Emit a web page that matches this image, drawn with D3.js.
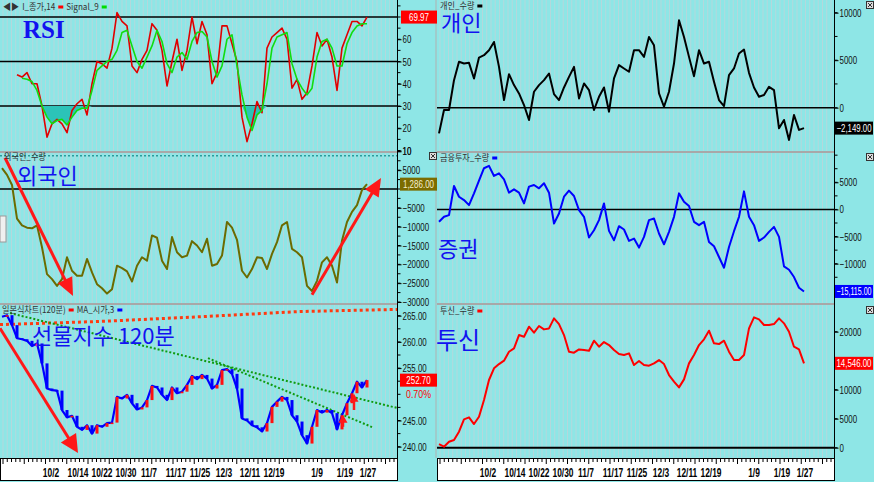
<!DOCTYPE html>
<html><head><meta charset="utf-8">
<script src="https://cdn.jsdelivr.net/npm/d3@7"></script>
<style>body{margin:0;background:#8ee6e6;} svg{display:block}</style>
</head><body><svg id="c" width="874" height="482"></svg>
<script>
// ---------- DATA (index 0..73, evenly spaced bars) ----------
const rsi = [null,null,null,44,43,45,40,40,30,16,22,24,22,18,28,31,33,26,40,50,49,47,56,72,68,66,48,45,51,55,67,64,55,39,50,60,46,55,70,58,68,62,40,45,66,66,58,50,25,14,22,32,27,56,61,63,65,60,38,42,33,36,48,63,57,60,52,37,56,62,68,68,66,69.97];
const rsiSignal = [null,null,null,null,42.5,42,41,37,30,25,22,23.5,24,21.5,25,28,29,29,37,46,48,50,51,55,63,64,57,50,47,52,57,64,59,49,45,52,54,51,59,63,63.5,61,50,43,48,60,62,48,35,25,19,26,28,40,56,61,62,63,49,42,38,35,38,52,59,60,56,48,48,58,63,66,67,67];
const foreign = [5540,3750,1070,-7860,-9640,-10270,-10450,-9640,-15450,-22590,-23930,-25720,-23930,-18130,-21700,-23040,-23040,-18570,-22150,-25270,-26340,-27770,-26610,-20360,-20990,-21880,-24560,-20360,-18130,-19020,-12320,-12950,-19020,-21250,-12770,-16790,-18130,-17680,-13840,-15000,-16790,-13220,-20360,-19910,-17680,-8750,-10270,-13480,-21700,-23490,-21250,-18130,-18310,-21250,-17230,-14110,-9640,-8750,-15900,-16790,-18130,-25720,-27060,-24380,-19470,-18130,-20360,-24830,-13660,-8750,-6070,-4290,-270,1286];
const futures = [264.8,265.1,263.2,260.7,260.5,260.2,259.2,259.7,255.9,251.1,250.8,250.7,247.0,245.6,245.9,243.8,243.2,244.1,242.5,244.1,243.8,244.5,244.6,249.5,249.2,249.9,248.3,247.1,247.5,248.9,251.6,251.3,249.9,248.9,251.3,250.2,250.5,251.8,253.5,252.9,253.7,253.0,251.1,251.8,254.6,254.8,253.9,251.1,245.4,245.0,244.1,243.7,242.9,244.5,247.6,248.6,249.5,248.9,246.0,244.8,242.2,240.6,243.8,247.0,246.5,247.0,246.4,243.3,246.0,248.3,250.2,252.4,251.3,252.7];
const individual = [-2700,-240,-240,2900,4830,4650,4720,3080,5280,5530,6050,6920,4300,800,3530,2380,1500,280,-1290,1680,2380,2900,3600,1430,800,2130,3250,4300,980,2550,1850,-240,1150,2130,-420,3080,4480,4130,3780,6050,6050,5350,7450,6570,1500,100,1680,4650,9200,7450,5350,3320,6050,4650,4830,2730,800,170,3430,4130,5700,6120,3670,2130,1150,1330,2200,1850,-2170,-1290,-3390,-770,-2340,-2149];
const securities = [-2280,-1360,-1050,4320,2340,1730,800,2960,5300,7590,8020,6170,6660,5550,3090,3700,3090,1110,4200,4500,3890,4810,3090,-2590,-740,2340,3460,2470,-120,-1360,-5180,-3830,-1970,1110,-3950,-5680,-3090,-3700,-5800,-5370,-7030,-5060,-1970,-1670,-4440,-6420,-4130,-1360,2960,1420,620,-2280,-2900,-2280,-5980,-6790,-8760,-10740,-6910,-4010,-1360,3330,-1360,-2900,-5800,-5180,-4130,-3210,-5060,-10490,-11110,-12460,-14440,-15115];
const trust = [630,170,1030,1320,2760,4890,5230,4080,5340,8220,11670,13680,14420,15000,16550,17130,19420,19140,20860,19830,20980,20400,20570,22300,21320,19420,16550,16380,16950,16840,16720,18450,17410,18220,17700,16840,16150,15980,16260,14250,14940,14250,14140,14540,15110,14420,12530,11380,10400,11780,14540,15980,17700,18680,20170,17990,17870,18450,16550,15110,15110,15980,20570,22470,22130,21150,21150,21320,22300,21440,20000,17410,16950,14546];

const dateLabels = ['10/2','10/14','10/22','10/30','11/7','11/17','11/25','12/3','12/11','12/19','1/9','1/19','1/27'];
const datePos = [9.8,15.2,20,24.8,29.4,34.8,39.6,44.4,49.6,54.4,63,68.6,73.2];

const rsiTicks = [60,50,40,30,20,10];
const rsiLevels = [70,50,30];
const foreignTicks = [10000,5000,-5000,-10000,-15000,-20000,-25000,-30000];
const foreignRef = 8800;
const futuresTicks = [265,260,255,245,240];
const individualTicks = [10000,5000,0];
const securitiesTicks = [5000,0,-5000,-10000];
const trustTicks = [20000,10000,5000,0];

// annotations in data coordinates
const foreignArrows = [{i0:0.6,v0:8300,i1:14.2,v1:-28400},{i0:62,v0:-28100,i1:75.8,v1:2950}];
const futuresArrows = [{i0:-0.4,v0:262.6,i1:15.2,v1:238.8,big:true},{i0:68.2,v0:243.8,i1:68.2,v1:246.1},{i0:70.4,v0:247.0,i1:70.4,v1:250.1}];
const trend1 = [{i:1.6,v:265.5},{i:79,v:247.4}];
const trend2 = [{i:41.2,v:256.9},{i:74,v:243.75}];
const maLong = [{i:-0.4,v:263.3},{i:19.6,v:263.9},{i:39.6,v:264.8},{i:59.6,v:265.8},{i:79,v:266.2}];

// ---------- LAYOUT ----------
const svg = d3.select('#c');
const BG = '#8ee6e6', STRIPE = '#b4d8dc';
const SANS = "'Liberation Sans',Arial,sans-serif";
const KR = "'Noto Sans CJK KR',sans-serif";
const xL = d3.scaleLinear().domain([0,73]).range([2,367]);
const xR = d3.scaleLinear().domain([0,73]).range([439,804]);
const L = {x0:0, x1:397}, R = {x0:437, x1:834};
const rows = {top:[0,152], mid:[152,304], bot:[304,458]};

const yRsi = d3.scaleLinear().domain([70,10]).range([17,150.5]);
const yFor = d3.scaleLinear().domain([0,-30000]).range([189,302]);
const yFut = d3.scaleLinear().domain([265,240]).range([315.7,446.7]);
const yInd = d3.scaleLinear().domain([10000,0]).range([12.7,107.7]);
const ySec = d3.scaleLinear().domain([5000,-10000]).range([182.3,263.7]);
const yTru = d3.scaleLinear().domain([20000,0]).range([331.7,447.7]);

// horizontally condense text (narrow system font look); returns new width
function squeeze(sel,f,maxW){
  sel.each(function(){
    const w=this.getComputedTextLength();
    let t=w*f; if(maxW&&t>maxW) t=maxW;
    this.setAttribute('textLength',t); this.setAttribute('lengthAdjust','spacingAndGlyphs');
    this.__w=t;
  });
}

svg.append('rect').attr('width',874).attr('height',482).attr('fill',BG);
const defs = svg.append('defs');
function clip(id,x0,x1,y0,y1){ defs.append('clipPath').attr('id',id).append('rect').attr('x',x0).attr('y',y0).attr('width',x1-x0).attr('height',y1-y0); return `url(#${id})`; }

function stripes(P,row){
  svg.append('g').selectAll('line').data(d3.range(P.x0+3,P.x1,4.25)).join('line')
    .attr('x1',d=>d).attr('x2',d=>d).attr('y1',row[0]).attr('y2',row[1])
    .attr('stroke',STRIPE).attr('stroke-width',1);
}
[L,R].forEach(P=>Object.values(rows).forEach(r=>stripes(P,r)));

[rows.mid[0], rows.bot[0]].forEach(y=>{
  [L,R].forEach(P=>svg.append('line').attr('x1',P.x0).attr('x2',P.x1).attr('y1',y).attr('y2',y).attr('stroke','#a8a8a8').attr('stroke-width',2));
});
svg.append('line').attr('x1',436).attr('x2',436).attr('y1',0).attr('y2',458).attr('stroke','#b0b0b0').attr('stroke-width',1);

function axis(P,y,ticks,fmt,row){
  const ax = P.x1+0.5;
  svg.append('line').attr('x1',ax).attr('x2',ax).attr('y1',row[0]).attr('y2',row[1]).attr('stroke','#000');
  const step = Math.abs(y(ticks[0])-y(ticks[1]))/2;
  const minors = d3.range(row[0]+ ((y(ticks[0])-row[0])%step), row[1], step);
  svg.append('g').selectAll('line').data(minors).join('line')
    .attr('x1',ax).attr('x2',ax+3).attr('y1',d=>d).attr('y2',d=>d).attr('stroke','#000');
  const g = svg.append('g').attr('transform',`translate(${ax},0)`)
    .call(d3.axisRight(y).tickValues(ticks).tickFormat(fmt).tickSize(4).tickPadding(1).tickSizeOuter(0));
  g.select('.domain').remove();
  g.selectAll('text').attr('font-family',SANS).attr('font-size',11).attr('fill','#111').call(squeeze,0.72);
}
axis(L,yRsi,rsiTicks,d3.format('d'),rows.top);
axis(L,yFor,foreignTicks,d=>d===10000?'10':d3.format('d')(d),rows.mid);
axis(L,yFut,futuresTicks,d3.format('.2f'),rows.bot);
axis(R,yInd,individualTicks,d3.format('d'),rows.top);
axis(R,ySec,securitiesTicks,d3.format('d'),rows.mid);
axis(R,yTru,trustTicks,d3.format('d'),rows.bot);

rsiLevels.forEach(v=>svg.append('line').attr('x1',L.x0).attr('x2',L.x1).attr('y1',yRsi(v)).attr('y2',yRsi(v)).attr('stroke','#000').attr('stroke-width',1.6));
svg.append('line').attr('x1',L.x0).attr('x2',L.x1).attr('y1',yFor(0)).attr('y2',yFor(0)).attr('stroke','#000').attr('stroke-width',1.5);
svg.append('line').attr('x1',L.x0).attr('x2',L.x1).attr('y1',yFor(foreignRef)).attr('y2',yFor(foreignRef)).attr('stroke','#2a9c9c').attr('stroke-width',1.5).attr('stroke-dasharray','2,2');
[yInd,ySec,yTru].forEach(y=>svg.append('line').attr('x1',R.x0).attr('x2',R.x1).attr('y1',y(0)).attr('y2',y(0)).attr('stroke','#000').attr('stroke-width',y===yTru?2:1.5));

function series(data,x,y,color,w,clipUrl){
  svg.append('path').datum(data)
    .attr('d',d3.line().defined(d=>d!=null).x((d,i)=>x(i)).y(d=>y(d)))
    .attr('fill','none').attr('stroke',color).attr('stroke-width',w).attr('stroke-linejoin','round')
    .attr('clip-path',clipUrl||null);
}

svg.append('path').datum(rsiSignal)
  .attr('d',d3.area().defined(d=>d!=null).x((d,i)=>xL(i)).y0(yRsi(30)).y1(d=>yRsi(Math.min(d,30))))
  .attr('fill','#2cc3b8');
series(rsi,xL,yRsi,'#e00000',1.6);
series(rsiSignal,xL,yRsi,'#10dd10',1.6);

series(foreign,xL,yFor,'#6b6b00',2);

const cFut = clip('cfut',L.x0,L.x1,rows.bot[0]+1,rows.bot[1]);
const lineTrend = d3.line().x(d=>xL(d.i)).y(d=>yFut(d.v));
svg.append('path').datum(maLong).attr('d',lineTrend).attr('fill','none').attr('stroke','#ff3a10').attr('stroke-width',3).attr('stroke-dasharray','3,3').attr('clip-path',cFut);
[trend1,trend2].forEach(t=>svg.append('path').datum(t).attr('d',lineTrend).attr('fill','none').attr('stroke','#109a10').attr('stroke-width',2).attr('stroke-dasharray','2,2').attr('clip-path',cFut));
series(futures,xL,yFut,'#0000ff',2.2,cFut);
svg.append('g').selectAll('rect').data(futures.slice(1)).join('rect')
  .attr('x',(d,k)=>xL(k+1)-1.5).attr('width',3)
  .attr('y',(d,k)=>yFut(Math.max(d,futures[k])))
  .attr('height',(d,k)=>Math.max(1.5,Math.abs(yFut(d)-yFut(futures[k]))))
  .attr('fill',(d,k)=>d>=futures[k]?'#ff1010':'#0000ff');

series(individual,xR,yInd,'#000',2);
series(securities,xR,ySec,'#0000ff',2);
series(trust,xR,yTru,'#ff0000',2);

function arrow(x1,y1,x2,y2,head,hw,w){
  const dx=x2-x1, dy=y2-y1, len=Math.hypot(dx,dy), ux=dx/len, uy=dy/len;
  const bx=x2-ux*head, by=y2-uy*head;
  svg.append('line').attr('x1',x1).attr('y1',y1).attr('x2',bx+ux*2).attr('y2',by+uy*2).attr('stroke','#ff1818').attr('stroke-width',w);
  svg.append('polygon').attr('points',[[x2,y2],[bx-uy*hw,by+ux*hw],[bx+uy*hw,by-ux*hw]].map(p=>p.join(',')).join(' ')).attr('fill','#ff1818');
}
foreignArrows.forEach(a=>arrow(xL(a.i0),yFor(a.v0),xL(a.i1),yFor(a.v1),18,8,3));
futuresArrows.forEach(a=>a.big?arrow(xL(a.i0),yFut(a.v0),xL(a.i1),yFut(a.v1),18,9,3):arrow(xL(a.i0),yFut(a.v0),xL(a.i1),yFut(a.v1),8,4.5,2.5));

function box(x,w,y,txt,bg,fg){
  svg.append('rect').attr('x',x).attr('y',y-6.5).attr('width',w).attr('height',13).attr('fill',bg);
  svg.append('text').attr('x',x+w/2).attr('y',y).attr('dy','0.36em').attr('text-anchor','middle')
    .attr('font-family',SANS).attr('font-size',10.5).attr('fill',fg).text(txt).call(squeeze,0.76,w-3);
}
box(401,36,yRsi(rsi[73]),d3.format('.2f')(rsi[73]),'#ff0000','#fff');
box(400,37,yFor(foreign[73]),d3.format(',.2f')(foreign[73]),'#7c6c00','#f4f0d0');
box(400,37,yFut(futures[73]),d3.format('.2f')(futures[73]),'#ff0000','#fff');
svg.append('text').attr('x',406).attr('y',yFut(futures[73])+14).attr('dy','0.36em').attr('font-family',SANS).attr('font-size',11).attr('fill','#ff0000').text('0.70%').call(squeeze,0.8);
box(835,38,yInd(individual[73]),d3.format(',.2f')(individual[73]),'#000','#fff');
box(835,38,ySec(securities[73]),d3.format(',.2f')(securities[73]),'#0000ff','#fff');
box(835,38,yTru(trust[73]),d3.format(',.2f')(trust[73]),'#ff0000','#fff');

function title(x,y,txt,size,fam,weight){
  svg.append('text').attr('x',x).attr('y',y).attr('font-family',fam||KR).attr('font-size',size)
    .attr('font-weight',weight||'normal').attr('fill','#1212f0').text(txt);
}
title(23,38,'RSI',25,"'Liberation Serif',serif",'bold');
title(17,184,'외국인',22);
title(32,344,'선물지수 120분',22);
title(441,31,'개인',22);
title(438,257,'증권',22);
title(436,349,'투신',24);

function legend(x,y,parts){
  let cx=x;
  parts.forEach(p=>{
    if(p.t){ const t=svg.append('text').attr('x',cx).attr('y',y).attr('dy','0.36em').attr('font-family',KR).attr('font-size',9).attr('fill','#333').text(p.t); t.call(squeeze,0.9); cx+=t.node().__w+3; }
    else { svg.append('rect').attr('x',cx).attr('y',y-1.5).attr('width',5).attr('height',3).attr('fill',p.c); cx+=8; }
  });
}
legend(3,7,[{t:'◀▶'},{t:'I_종가,14'},{c:'#ff0000'},{t:'Signal_9'},{c:'#00dd00'}]);
legend(4,157,[{t:'외국인_수량'}]);
legend(2,310,[{t:'일본식차트(120분)'},{c:'#ff0000'},{t:'MA_시가,3'},{c:'#0000ff'}]);
legend(440,6,[{t:'개인_수량'},{c:'#000'}]);
legend(440,158,[{t:'금융투자_수량'},{c:'#0000ff'}]);
legend(440,311,[{t:'투신_수량'},{c:'#ff0000'}]);

[[866,1],[429,152],[866,153],[866,306]].forEach(([x,y])=>{
  svg.append('rect').attr('x',x+0.5).attr('y',y+0.5).attr('width',7).attr('height',7).attr('fill','#ddd').attr('stroke','#333');
  svg.append('path').attr('d',`M${x+2},${y+2}L${x+6},${y+6}M${x+6},${y+2}L${x+2},${y+6}`).attr('stroke','#333');
});
svg.append('rect').attr('x',0).attr('y',216).attr('width',6).attr('height',26).attr('fill','#f0f0f0').attr('stroke','#999');

[[L,xL],[R,xR]].forEach(([P,x])=>{
  svg.append('rect').attr('x',P.x0+0.5).attr('y',458.5).attr('width',P.x1-P.x0).attr('height',22).attr('fill','#fff').attr('stroke','#000');
  svg.append('g').selectAll('line').data(d3.range(P.x0+3,P.x1,4.25)).join('line')
    .attr('x1',d=>d).attr('x2',d=>d).attr('y1',459).attr('y2',(d,i)=>i%5===0?464:462).attr('stroke','#000');
  svg.append('g').selectAll('text').data(dateLabels).join('text')
    .attr('x',(d,i)=>x(datePos[i])).attr('y',477).attr('text-anchor','middle')
    .attr('font-family',SANS).attr('font-size',12).attr('font-weight','bold').attr('fill','#000').text(d=>d)
    .call(squeeze,0.7);
});
</script></body></html>
